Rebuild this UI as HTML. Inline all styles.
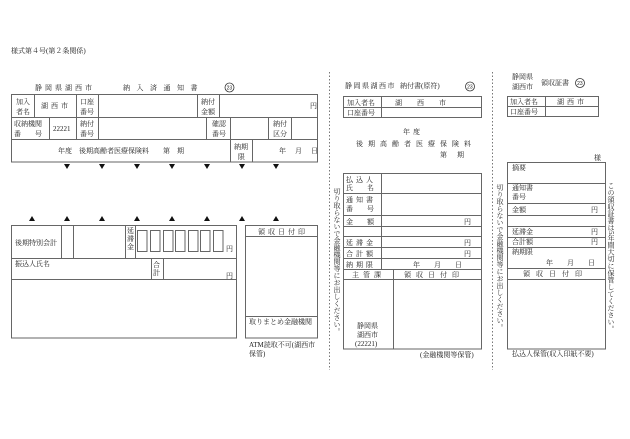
<!DOCTYPE html>
<html><head><meta charset="utf-8"><style>
html,body{margin:0;padding:0;background:#fff;width:630px;height:439px;overflow:hidden}
svg{display:block}
text{font-family:"Liberation Serif","Noto Serif CJK JP",serif;font-size:7px;fill:#222}
.l{stroke:#666;stroke-width:1;fill:none}
.d{stroke:#777;stroke-width:1;stroke-dasharray:1.5,2;fill:none}
.c{stroke:#333;stroke-width:0.8;fill:none}
.cn{font-size:5px;font-family:"Liberation Sans",sans-serif}
</style></head><body>
<svg width="630" height="439" viewBox="0 0 630 439" xmlns="http://www.w3.org/2000/svg">
<text x="11" y="53">様式第４号(第２条関係)</text>
<!-- Left header -->
<text x="35" y="90" letter-spacing="3">静岡県湖西市</text>
<text x="123" y="90" letter-spacing="6.5">納入済通知書</text>
<circle class="c" cx="229.5" cy="87.5" r="4.5"/><text class="cn" x="226.6" y="89.3">23</text>
<!-- Table1 -->
<rect class="l" x="11.5" y="94.5" width="306" height="67.5"/>
<line class="l" x1="11" y1="117.5" x2="318" y2="117.5"/>
<line class="l" x1="11" y1="139.5" x2="318" y2="139.5"/>
<line class="l" x1="34.5" y1="94" x2="34.5" y2="117"/>
<line class="l" x1="76.5" y1="94" x2="76.5" y2="139"/>
<line class="l" x1="98.5" y1="94" x2="98.5" y2="139"/>
<line class="l" x1="197.5" y1="94" x2="197.5" y2="117"/>
<line class="l" x1="219.5" y1="94" x2="219.5" y2="117"/>
<line class="l" x1="49.5" y1="117" x2="49.5" y2="139"/>
<line class="l" x1="206.5" y1="117" x2="206.5" y2="139"/>
<line class="l" x1="230.5" y1="117" x2="230.5" y2="162"/>
<line class="l" x1="268.5" y1="117" x2="268.5" y2="139"/>
<line class="l" x1="291.5" y1="117" x2="291.5" y2="139"/>
<line class="l" x1="252.5" y1="139" x2="252.5" y2="162"/>
<text x="16" y="104">加入</text><text x="16" y="114">者名</text>
<text x="41" y="108" letter-spacing="3">湖西市</text>
<text x="80" y="104">口座</text><text x="80" y="114">番号</text>
<text x="201" y="104">納付</text><text x="201" y="114">金額</text>
<text x="310" y="108">円</text>
<text x="14" y="126">収納機関</text><text x="14" y="136">番　　号</text>
<text x="53" y="131">22221</text>
<text x="80" y="126">納付</text><text x="80" y="136">番号</text>
<text x="212" y="126">確認</text><text x="212" y="136">番号</text>
<text x="273" y="126">納付</text><text x="273" y="136">区分</text>
<text x="58" y="153">年度　後期高齢者医療保険料　　第　期</text>
<text x="234" y="149">納期</text><text x="238" y="159">限</text>
<text x="279" y="153" letter-spacing="1">年　月　日</text>
<!-- triangles -->
<g fill="#111">
<polygon points="64,164 70,164 67,169"/><polygon points="99,164 105,164 102,169"/><polygon points="134,164 140,164 137,169"/><polygon points="169,164 175,164 172,169"/><polygon points="204,164 210,164 207,169"/><polygon points="239,164 245,164 242,169"/><polygon points="273,164 279,164 276,169"/>
<polygon points="29,221 35,221 32,216"/><polygon points="64,221 70,221 67,216"/><polygon points="99,221 105,221 102,216"/><polygon points="134,221 140,221 137,216"/><polygon points="169,221 175,221 172,216"/><polygon points="204,221 210,221 207,216"/><polygon points="239,221 245,221 242,216"/><polygon points="273,221 279,221 276,216"/>
</g>
<!-- bottom left table -->
<rect class="l" x="11.5" y="225.5" width="225" height="112.5"/>
<line class="l" x1="11" y1="258.5" x2="237" y2="258.5"/>
<line class="l" x1="11" y1="279.5" x2="237" y2="279.5"/>
<line class="l" x1="61.5" y1="225" x2="61.5" y2="258"/>
<line class="l" x1="73.5" y1="225" x2="73.5" y2="258"/>
<line class="l" x1="125.5" y1="225" x2="125.5" y2="258"/>
<line class="l" x1="135.5" y1="225" x2="135.5" y2="258"/>
<line class="l" x1="151.5" y1="258" x2="151.5" y2="279"/>
<line class="l" x1="163.5" y1="258" x2="163.5" y2="279"/>
<g class="l">
<rect x="137.5" y="230.5" width="9.5" height="21"/><rect x="150.5" y="230.5" width="9.5" height="21"/><rect x="163.5" y="230.5" width="9.5" height="21"/><rect x="175.5" y="230.5" width="9.5" height="21"/><rect x="188.5" y="230.5" width="9.5" height="21"/><rect x="200.5" y="230.5" width="9.5" height="21"/><rect x="213.5" y="230.5" width="9.5" height="21"/>
</g>
<text x="15" y="245">後期特別会計</text>
<text x="127" y="233">延</text><text x="127" y="241">滞</text><text x="127" y="249">金</text>
<text x="226" y="251">円</text>
<text x="15" y="266">振込人氏名</text>
<text x="153" y="267">合</text><text x="153" y="275">計</text>
<text x="226" y="278">円</text>
<!-- right stamp box -->
<rect class="l" x="245.5" y="225.5" width="72" height="112.5"/>
<line class="l" x1="245" y1="236.5" x2="318" y2="236.5"/>
<line class="l" x1="245" y1="316.5" x2="318" y2="316.5"/>
<text x="258" y="234" letter-spacing="3">領収日付印</text>
<text x="249" y="324">取りまとめ金融機関</text>
<text x="249" y="347">ATM読取不可(湖西市</text>
<text x="249" y="356">保管)</text>
<!-- dotted separators -->
<line class="d" x1="329.5" y1="72" x2="329.5" y2="370"/>
<line class="d" x1="492.5" y1="72" x2="492.5" y2="370"/>
<!-- middle -->
<text x="345" y="88" letter-spacing="1.5">静岡県湖西市</text>
<text x="400" y="88">納付書(原符)</text>
<circle class="c" cx="470" cy="86.5" r="4.5"/><text class="cn" x="467.1" y="88.3">23</text>
<rect class="l" x="343.5" y="96.5" width="138" height="21"/>
<line class="l" x1="343" y1="107.5" x2="482" y2="107.5"/>
<line class="l" x1="381.5" y1="96" x2="381.5" y2="118"/>
<text x="347" y="105">加入者名</text><text x="395" y="105" letter-spacing="15">湖西市</text>
<text x="347" y="115">口座番号</text>
<text x="403" y="134" letter-spacing="3">年度</text>
<text x="356" y="146" letter-spacing="5">後期高齢者医療保険料</text>
<text x="440" y="157" letter-spacing="10">第期</text>
<rect class="l" x="343.5" y="173.5" width="138" height="175.5"/>
<line class="l" x1="343" y1="193.5" x2="482" y2="193.5"/>
<line class="l" x1="343" y1="215.5" x2="482" y2="215.5"/>
<line class="l" x1="343" y1="226.5" x2="482" y2="226.5"/>
<line class="l" x1="343" y1="236.5" x2="482" y2="236.5"/>
<line class="l" x1="343" y1="247.5" x2="482" y2="247.5"/>
<line class="l" x1="343" y1="258.5" x2="482" y2="258.5"/>
<line class="l" x1="343" y1="269.5" x2="482" y2="269.5"/>
<line class="l" x1="343" y1="279.5" x2="482" y2="279.5"/>
<line class="l" x1="381.5" y1="173" x2="381.5" y2="269"/>
<line class="l" x1="393.5" y1="269" x2="393.5" y2="349"/>
<text x="346" y="182" letter-spacing="3">払込人</text><text x="346" y="190">氏　　名</text>
<text x="346" y="202" letter-spacing="3">通知書</text><text x="346" y="211">番　　号</text>
<text x="346" y="224">金　　額</text><text x="464" y="224">円</text>
<text x="346" y="245" letter-spacing="3">延滞金</text><text x="464" y="245">円</text>
<text x="346" y="256" letter-spacing="3">合計額</text><text x="464" y="256">円</text>
<text x="346" y="267" letter-spacing="3">納期限</text><text x="413" y="267">年　　月　　日</text>
<text x="352" y="277" letter-spacing="4">主管課</text><text x="404" y="277" letter-spacing="5">領収日付印</text>
<text x="357" y="328">静岡県</text><text x="357" y="337">湖西市</text><text x="355" y="346">(22221)</text>
<text x="420" y="357">(金融機関等保管)</text>
<text x="337" y="188" style="writing-mode:vertical-rl">切り取らないで金融機関等にお出しください。</text>
<!-- right -->
<text x="512" y="79">静岡県</text><text x="512" y="89">湖西市</text>
<text x="541" y="85">領収証書</text>
<circle class="c" cx="580" cy="83" r="4.5"/><text class="cn" x="577.1" y="84.8">23</text>
<rect class="l" x="507.5" y="96.5" width="91" height="20"/>
<line class="l" x1="507" y1="106.5" x2="599" y2="106.5"/>
<line class="l" x1="545.5" y1="96" x2="545.5" y2="117"/>
<text x="510" y="104">加入者名</text><text x="557" y="104" letter-spacing="3">湖西市</text>
<text x="510" y="114">口座番号</text>
<text x="594" y="160">様</text>
<rect class="l" x="507.5" y="162.5" width="98" height="186.5"/>
<line class="l" x1="507" y1="183.5" x2="606" y2="183.5"/>
<line class="l" x1="507" y1="203.5" x2="606" y2="203.5"/>
<line class="l" x1="507" y1="215.5" x2="606" y2="215.5"/>
<line class="l" x1="507" y1="226.5" x2="606" y2="226.5"/>
<line class="l" x1="507" y1="237.5" x2="606" y2="237.5"/>
<line class="l" x1="507" y1="247.5" x2="606" y2="247.5"/>
<line class="l" x1="507" y1="268.5" x2="606" y2="268.5"/>
<line class="l" x1="507" y1="279.5" x2="606" y2="279.5"/>
<text x="512" y="170">摘要</text>
<text x="512" y="190">通知書</text><text x="512" y="199">番号</text>
<text x="512" y="212">金額</text><text x="591" y="212">円</text>
<text x="512" y="234">延滞金</text><text x="591" y="234">円</text>
<text x="512" y="244">合計額</text><text x="591" y="244">円</text>
<text x="512" y="254">納期限</text><text x="546" y="265">年　　月　　日</text>
<text x="523" y="276" letter-spacing="6">領収日付印</text>
<text x="512" y="356">払込人保管(収入印紙不要)</text>
<text x="500" y="184" style="writing-mode:vertical-rl">切り取らないで金融機関等にお出しください。</text>
<text x="611" y="182" style="writing-mode:vertical-rl">この領収証書は5年間大切に保管してください。</text>
</svg>
</body></html>
